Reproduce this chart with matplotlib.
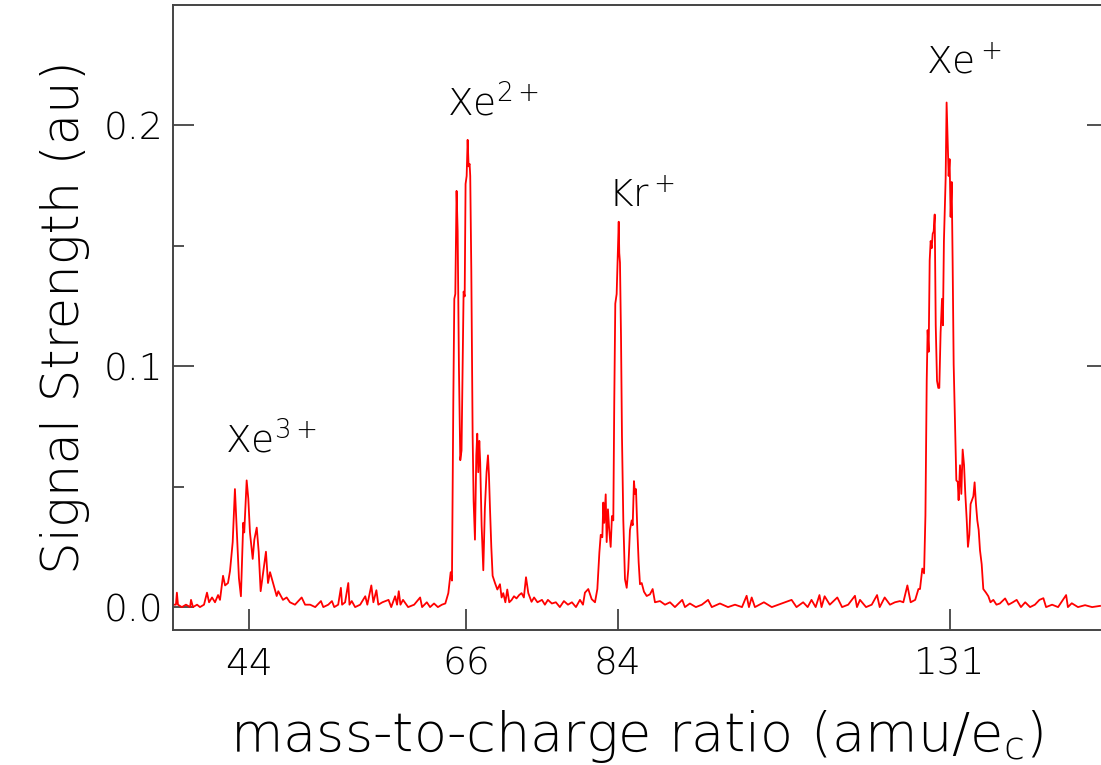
import matplotlib
matplotlib.use("Agg")
import matplotlib.pyplot as plt
import numpy as np

# mass spectrum: m/z (amu/e) and signal (au)
mz = [
    37.35, 37.60, 37.68, 37.77, 38.10, 38.45, 38.80, 38.88, 39.05, 39.40,
    39.65, 40.00, 40.26, 40.44, 40.70, 40.96, 41.23, 41.40, 41.67, 41.85,
    42.11, 42.29, 42.53, 42.73, 42.94, 43.09, 43.27, 43.48, 43.57, 43.79,
    43.94, 44.09, 44.34, 44.49, 44.71, 44.89, 45.07, 45.31, 45.56, 45.75,
    45.94, 46.25, 46.56, 46.71, 47.15, 47.50, 47.81, 48.29, 48.93, 49.26,
    49.75, 50.24, 50.80, 51.03, 51.52, 51.88, 52.11, 52.50, 52.77, 52.89,
    53.19, 53.51, 53.63, 53.86, 54.20, 54.71, 55.23, 55.44, 55.85, 56.06,
    56.37, 56.57, 56.99, 57.63, 57.91, 58.32, 58.52, 58.70, 58.88, 59.15,
    59.69, 60.33, 60.97, 61.18, 61.69, 62.04, 62.47, 62.89, 63.33, 63.70,
    # Xe2+
    64.03, 64.29, 64.43, 64.58, 64.69, 64.80, 64.94, 65.06, 65.20, 65.35,
    65.49, 65.61, 65.72, 65.84, 65.94, 66.06, 66.17, 66.28, 66.39, 66.46,
    66.58, 66.73, 66.84, 66.99, 67.14, 67.25, 67.36, 67.48, 67.58, 67.74,
    67.93, 68.11, 68.30, 68.46, 68.57, 68.69, 68.84, 68.99, 69.26, 69.53,
    69.83, 70.02, 70.21, 70.45, 70.67, 70.90, 71.16, 71.45, 71.74, 72.05,
    72.33, 72.60, 72.85, 73.12, 73.50, 73.80, 74.20, 74.73, 75.08, 75.44,
    75.91, 76.39, 76.87, 77.36, 77.85, 78.33, 78.82, 79.31, 79.68, 79.92,
    80.33, 80.75,
    # Kr+
    81.16, 81.45, 81.70, 81.87, 82.07, 82.19, 82.31, 82.49, 82.61, 82.77,
    82.93, 83.11, 83.27, 83.44, 83.56, 83.69, 83.86, 83.99, 84.12, 84.19,
    84.28, 84.41, 84.53, 84.70, 84.91, 85.13, 85.33, 85.54, 85.76, 85.89,
    86.05, 86.18, 86.31, 86.48, 86.65, 86.82, 87.04, 87.33, 87.68, 88.10,
    88.45, 88.75, 89.40, 90.05, 90.70, 91.35, 92.31, 92.67, 93.32, 94.12,
    94.92, 95.75, 96.25, 97.35, 98.45, 99.40, 100.36, 101.00, 101.32, 101.70,
    102.15, 103.40, 104.50, 105.90, 107.30, 108.00, 108.95, 109.60, 110.15, 110.75,
    111.30, 111.60, 112.05, 112.80, 113.90, 114.60, 115.50, 116.50, 116.80, 117.25,
    118.15, 119.00, 119.80, 120.20, 120.95, 121.75, 122.50, 123.27, 123.78, 124.40,
    124.90, 125.60, 126.10,
    # Xe+
    126.34, 126.70, 126.97, 127.18, 127.38, 127.52, 127.68, 127.84, 127.99, 128.15,
    128.31, 128.46, 128.62, 128.78, 128.98, 129.18, 129.34, 129.54, 129.76, 129.90,
    130.06, 130.33, 130.48, 130.64, 130.80, 130.95, 131.11, 131.28, 131.43, 131.59,
    131.79, 132.01, 132.23, 132.37, 132.59, 132.80, 133.01, 133.23, 133.43, 133.65,
    133.85, 134.07, 134.27, 134.49, 134.71, 134.91, 135.12, 135.34, 135.56, 135.77,
    136.04, 136.30, 136.73, 137.11, 137.45, 137.91, 138.42, 138.97, 139.82, 140.37,
    141.07, 141.70, 142.40, 143.10, 143.90, 144.70, 145.45, 146.10, 146.55, 147.55,
    148.55, 149.90, 150.20, 150.85, 151.90, 153.10, 154.30, 155.65,
]
signal = [
    0.001, 0.001, 0.006, 0.001, 0.000, 0.001, 0.000, 0.003, 0.000, 0.001,
    0.000, 0.001, 0.006, 0.002, 0.004, 0.002, 0.005, 0.003, 0.013, 0.009,
    0.010, 0.015, 0.027, 0.049, 0.027, 0.012, 0.0045, 0.035, 0.031, 0.0526,
    0.045, 0.031, 0.020, 0.028, 0.033, 0.023, 0.0066, 0.0145, 0.023, 0.010,
    0.0145, 0.0095, 0.0046, 0.0066, 0.003, 0.004, 0.002, 0.001, 0.004, 0.001,
    0.001, 0.000, 0.0025, 0.000, 0.001, 0.0025, 0.000, 0.001, 0.008, 0.001,
    0.002, 0.010, 0.001, 0.0025, 0.000, 0.001, 0.0045, 0.001, 0.009, 0.002,
    0.007, 0.001, 0.002, 0.003, 0.000, 0.0045, 0.001, 0.0066, 0.001, 0.003,
    0.000, 0.001, 0.004, 0.000, 0.002, 0.000, 0.0015, 0.000, 0.001, 0.0015,
    # Xe2+
    0.0058, 0.0145, 0.011, 0.0857, 0.128, 0.130, 0.1728, 0.156, 0.100, 0.061,
    0.065, 0.100, 0.131, 0.129, 0.1757, 0.179, 0.194, 0.183, 0.184, 0.179,
    0.140, 0.071, 0.044, 0.028, 0.063, 0.072, 0.056, 0.069, 0.060, 0.034,
    0.0153, 0.041, 0.056, 0.063, 0.055, 0.041, 0.025, 0.013, 0.010, 0.0073,
    0.0095, 0.004, 0.0058, 0.002, 0.0073, 0.002, 0.0029, 0.0045, 0.0036, 0.005,
    0.0058, 0.004, 0.0124, 0.0058, 0.0022, 0.004, 0.002, 0.003, 0.001, 0.003,
    0.0015, 0.002, 0.000, 0.0025, 0.001, 0.002, 0.000, 0.003, 0.001, 0.006,
    0.0075, 0.0033,
    # Kr+
    0.002, 0.0075, 0.0226, 0.030, 0.029, 0.0434, 0.035, 0.0468, 0.027, 0.0406,
    0.032, 0.025, 0.0378, 0.036, 0.085, 0.126, 0.130, 0.1455, 0.160, 0.147,
    0.143, 0.112, 0.071, 0.036, 0.0116, 0.008, 0.0157, 0.032, 0.036, 0.034,
    0.0523, 0.047, 0.049, 0.032, 0.0186, 0.0095, 0.010, 0.0064, 0.0046, 0.0053,
    0.0075, 0.002, 0.0025, 0.001, 0.002, 0.000, 0.003, 0.000, 0.0015, 0.000,
    0.001, 0.003, 0.000, 0.0015, 0.000, 0.001, 0.000, 0.0047, 0.000, 0.004,
    0.000, 0.002, 0.000, 0.0015, 0.003, 0.000, 0.002, 0.000, 0.003, 0.000,
    0.005, 0.000, 0.0045, 0.001, 0.004, 0.000, 0.001, 0.0047, 0.000, 0.003,
    0.000, 0.001, 0.005, 0.000, 0.004, 0.001, 0.002, 0.0025, 0.002, 0.009,
    0.002, 0.003, 0.0075,
    # Xe+
    0.0075, 0.016, 0.014, 0.038, 0.094, 0.115, 0.106, 0.144, 0.152, 0.149,
    0.155, 0.156, 0.163, 0.117, 0.094, 0.091, 0.091, 0.114, 0.128, 0.117,
    0.152, 0.178, 0.2095, 0.194, 0.179, 0.186, 0.162, 0.1765, 0.1426, 0.1008,
    0.078, 0.0526, 0.052, 0.0444, 0.0589, 0.047, 0.0654, 0.059, 0.047, 0.0364,
    0.025, 0.030, 0.0428, 0.0444, 0.046, 0.0518, 0.043, 0.036, 0.032, 0.0236,
    0.0178, 0.0075, 0.006, 0.0045, 0.002, 0.003, 0.001, 0.0015, 0.0036, 0.001,
    0.002, 0.003, 0.000, 0.002, 0.000, 0.001, 0.003, 0.0037, 0.000, 0.001,
    0.000, 0.005, 0.000, 0.0016, 0.000, 0.0008, 0.000, 0.0005,
]

tick_mz = [44, 66, 84, 131]
tick_labels = ["44", "66", "84", "131"]

ion_labels = ["Xe$^{3+}$", "Xe$^{2+}$", "Kr$^+$", "Xe$^+$"]
ion_mz = [41.84, 63.85, 82.77, 127.2]
ion_sig = [0.0639, 0.2037, 0.166, 0.2216]

plt.rcParams['font.family'] = ['DejaVu Sans']
plt.rcParams['font.weight'] = 'light'
plt.rcParams['axes.labelweight'] = 'light'
plt.rcParams['mathtext.fontset'] = 'custom'
plt.rcParams['mathtext.rm'] = 'DejaVu Sans:light'
plt.rcParams['mathtext.it'] = 'DejaVu Sans:light'

fig = plt.figure(figsize=(11.01, 7.65), dpi=100)
ax = fig.add_axes([0.1571, 0.1765, 0.8429, 0.817])

# flight time goes as sqrt(m/q), so the axis is square-root in m/q
ax.set_xscale('function', functions=(np.sqrt, np.square))
ax.plot(mz, signal, color='#ff0000', lw=1.3)

ax.set_xlim(37.35, 155.82)
ax.set_ylim(-0.0095, 0.25)

ax.set_xticks(tick_mz)
ax.set_xticklabels(tick_labels)
ax.xaxis.set_minor_locator(matplotlib.ticker.NullLocator())
ax.set_yticks([0.0, 0.1, 0.2])
ax.set_yticklabels(["0.0", "0.1", "0.2"])
ax.set_yticks([0.05, 0.15], minor=True)

ax.tick_params(axis='x', which='major', direction='in', length=15, width=1.2,
               color='#333333', labelsize=27, pad=12, top=False)
ax.tick_params(axis='y', which='major', direction='in', length=15, width=1.2,
               color='#333333', labelsize=27, pad=7, right=False)
ax.tick_params(axis='y', which='minor', direction='in', length=8, width=1.2,
               color='#333333')

# right side shows only short major ticks
sec = ax.secondary_yaxis('right')
sec.set_yticks([0.1, 0.2])
sec.set_yticklabels([])
sec.tick_params(direction='in', length=10, width=1.2, color='#333333')
sec.spines['right'].set_visible(False)
ax.spines['right'].set_visible(False)

for side in ['left', 'bottom', 'top']:
    ax.spines[side].set_color('#444444')
    ax.spines[side].set_linewidth(1.4)

ax.set_ylabel('Signal Strength (au)', fontsize=37, fontweight='light')
ax.yaxis.set_label_coords(-0.0894, 0.5)
ax.set_xlabel('mass-to-charge ratio (amu/e$_c$)', fontsize=39, fontweight='light')
ax.xaxis.set_label_coords(0.5, -0.125)

for lab, xm, ys in zip(ion_labels, ion_mz, ion_sig):
    ax.text(xm, ys, lab, fontsize=27, fontweight='light', ha='left', va='baseline')

fig.savefig('out.png', dpi=100)
